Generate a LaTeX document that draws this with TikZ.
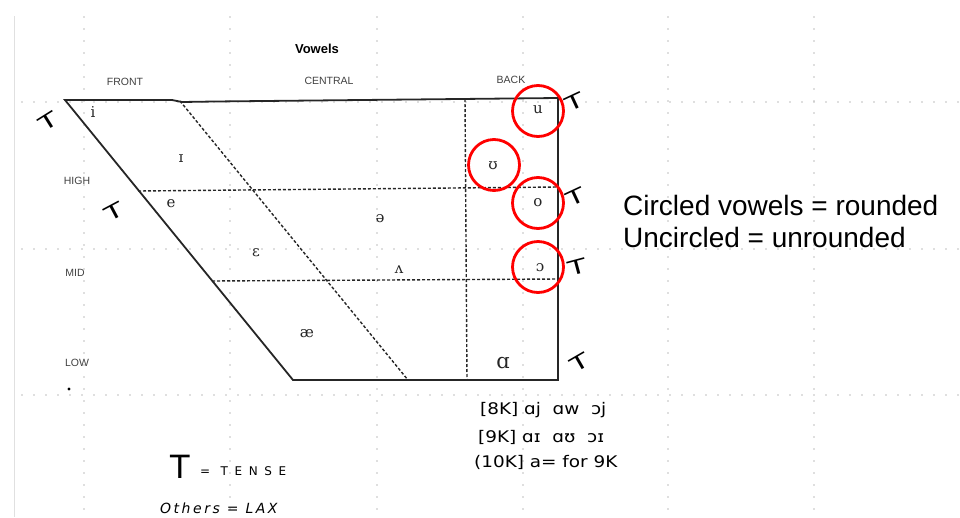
\documentclass[tikz,border=0pt]{standalone}
\usepackage{fontspec}
\setmainfont{Liberation Sans}
\newfontfamily\ipafont{DejaVu Serif}
\newfontfamily\handfont{DejaVu Sans}
\begin{document}
\begin{tikzpicture}[x=1pt,y=-1pt,
  griddot/.style={draw=black!25, line width=1.6pt, dash pattern=on 0pt off 12pt, line cap=round},
  chartline/.style={draw=black!85, line width=1.8pt},
  dsh/.style={draw=black!85, line width=1.4pt, dash pattern=on 3pt off 2pt},
  ring/.style={draw=red, line width=2.8pt, circle, minimum size=51pt, inner sep=0pt},
  vowel/.style={font=\ipafont\fontsize{15}{15}\selectfont, text=black!85, inner sep=0pt},
  lab/.style={font=\fontsize{10.5}{12}\selectfont, text=black!75, inner sep=0pt},
  tensemark/.style={font=\handfont\fontsize{20}{20}\selectfont, inner sep=0pt},
  hand/.style={font=\handfont\fontsize{16}{18}\selectfont, inner sep=0pt, anchor=west}
]
\useasboundingbox (0,0) rectangle (960,517);
% page border and dotted grid
\draw[draw=black!12, line width=0.6pt] (14,16) -- (14,517);
\foreach \gx in {84,230,377,523,668,814} \draw[griddot] (\gx,17) -- (\gx,517);
\foreach \gy in {102,249,395} \draw[griddot] (22,\gy) -- (958,\gy);

% title and column / row labels
\node[font=\bfseries\fontsize{13}{14}\selectfont, inner sep=0pt] (title) at (317,49) {Vowels};
\node[lab] (front) at (125,82) {FRONT};
\node[lab] (central) at (329,81) {CENTRAL};
\node[lab] (back) at (511,80) {BACK};
\node[lab] (high) at (77,181) {HIGH};
\node[lab] (mid) at (75,273) {MID};
\node[lab] (low) at (77,363) {LOW};
\fill (69,389) circle (1.6pt);

% chart outline
\coordinate (tl) at (65,100);
\coordinate (tr) at (558,98);
\coordinate (br) at (558,380);
\coordinate (bl) at (293,380);
\draw[chartline] (tl) -- (172,100) -- (182,102) -- (215,101.5) -- (tr) -- (br) -- (bl) -- cycle;
% inner dashed lines
\coordinate (h1l) at (138,191);
\coordinate (h1r) at (558,187);
\coordinate (h2l) at (212,281);
\coordinate (h2r) at (558,279);
\coordinate (st) at (180,101);
\coordinate (sb) at (408,380);
\coordinate (vt) at (465,99);
\coordinate (vb) at (467,380);
\draw[dsh] (h1l) -- (h1r);
\draw[dsh] (h2l) -- (h2r);
\draw[dsh] (st) -- (sb);
\draw[dsh] (vt) -- (vb);

% vowels
\node[vowel] (vi) at (93,112) {i};
\node[vowel] (vsi) at (181,159) {ɪ};
\node[vowel] (ve) at (171,204) {e};
\node[vowel] (vschwa) at (380,219) {ə};
\node[vowel] (veps) at (256,253) {ɛ};
\node[vowel] (vwedge) at (399,270) {ʌ};
\node[vowel] (vae) at (307,334) {æ};
\node[vowel, font=\ipafont\fontsize{21}{21}\selectfont] (valpha) at (503,363) {ɑ};
\node[vowel] (vu) at (538,110) {u};
\node[vowel] (vupsilon) at (493,166) {ʊ};
\node[vowel] (vo) at (538,203) {o};
\node[vowel] (vopeno) at (540,268) {ɔ};

% rounded circles
\node[ring] (ru) at (538,111) {};
\node[ring] (rupsilon) at (494,165) {};
\node[ring] (ro) at (538,203) {};
\node[ring] (ropeno) at (538,267) {};

% tense marks
\node[tensemark, rotate=32] (t1) at (48,121) {\scalebox{1.5}[1]{T}};
\node[tensemark, rotate=28] (t2) at (114,212) {\scalebox{1.5}[1]{T}};
\node[tensemark, rotate=25] (t3) at (575,102) {\scalebox{1.5}[1]{T}};
\node[tensemark, rotate=25] (t4) at (576,197) {\scalebox{1.5}[1]{T}};
\node[tensemark, rotate=15] (t5) at (577,267) {\scalebox{1.5}[1]{T}};
\node[tensemark, rotate=30] (t6) at (580,363) {\scalebox{1.5}[1]{T}};

% legend on the right
\node[anchor=base west, inner sep=0pt, font=\fontsize{28}{30}\selectfont] (leg1) at (623,215) {Circled vowels = rounded};
\node[anchor=base west, inner sep=0pt, font=\fontsize{28}{30}\selectfont] (leg2) at (623,247) {Uncircled = unrounded};

% handwritten notes
\node[hand] (n8) at (480,410) {\scalebox{1.15}[1]{[8K]\ ɑj\ \ ɑw\ \ ɔj}};
\node[hand] (n9) at (478,437) {\scalebox{1.15}[1]{[9K]\ ɑɪ\ \ ɑʊ\ \ ɔɪ}};
\node[hand] (n10) at (474,462) {\scalebox{1.15}[1]{(10K]\ a= for 9K}};

\node[font=\handfont\fontsize{32}{32}\selectfont, inner sep=0pt] (bigt) at (180,467) {T};
\node[font=\handfont\fontsize{12}{12}\selectfont\addfontfeature{LetterSpace=55}, inner sep=0pt, anchor=west] (tense) at (200,471) {= TENSE};
\node[font=\handfont\itshape\fontsize{14}{14}\selectfont\addfontfeature{LetterSpace=18}, inner sep=0pt, anchor=west] (others) at (160,508) {Others = LAX};
\end{tikzpicture}
\end{document}
